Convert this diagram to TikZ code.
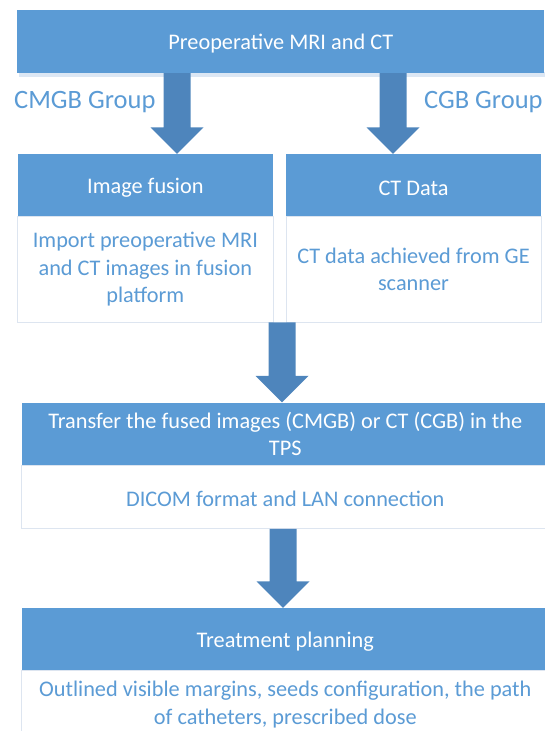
\documentclass[tikz,border=0pt]{standalone}
\usepackage{fontspec}
\setmainfont{Carlito}
\usetikzlibrary{calc}
\definecolor{hdrblue}{HTML}{5B9BD5}
\definecolor{arrblue}{HTML}{4E85BC}
\definecolor{bodyline}{HTML}{DDE5F0}
\definecolor{shadowblue}{HTML}{DCE7F4}
\tikzset{
  hdr/.style={rectangle, fill=hdrblue, draw=none, text=white, align=center,
    inner sep=0pt, font=\fontsize{22.3bp}{27.3bp}\selectfont,
    execute at begin node={\rule{0pt}{20bp}}},
  bodybox/.style={rectangle, fill=white, draw=bodyline, line width=0.8bp, text=hdrblue,
    align=center, inner sep=0pt, font=\fontsize{22.3bp}{27.3bp}\selectfont,
    execute at begin node={\rule{0pt}{20bp}}},
  grouplbl/.style={text=hdrblue, inner sep=0pt, anchor=base, font=\fontsize{26.5bp}{30bp}\selectfont},
  barrow/.style={fill=arrblue, draw=none}
}
\begin{document}
\begin{tikzpicture}[x=1bp,y=-1bp]
\useasboundingbox (0,0) rectangle (545,731);
\clip (0,0) rectangle (545,731);
% top box with faint shadow
\fill[shadowblue] (19,72) rectangle (545,77.3);
\node[hdr, minimum width=526.5bp, minimum height=63bp] (top) at (280.75,41.5) {Preoperative MRI and CT};
% group labels
\node[grouplbl] (cmgb) at (84.8,108.3) {CMGB Group};
\node[grouplbl] (cgb) at (483.4,108.3) {CGB Group};
% left column
\node[hdr, minimum width=255.3bp, minimum height=62.5bp] (fushdr) at (145.35,185.25) {Image fusion};
\node[bodybox, minimum width=255.3bp, minimum height=105.5bp] (fusbody) at (145.35,269.25)
  {Import preoperative MRI\\and CT images in fusion\\platform};
% right column
\node[hdr, minimum width=255bp, minimum height=62.5bp] (cthdr) at (413.5,185.25) {CT Data};
\node[bodybox, minimum width=255bp, minimum height=105.5bp] (ctbody) at (413.5,269.25)
  {CT data achieved from GE\\scanner};
% transfer
\node[hdr, minimum width=527.4bp, minimum height=62.5bp] (trhdr) at (285.3,433.75)
  {Transfer the fused images (CMGB) or CT (CGB) in the\\TPS};
\node[bodybox, minimum width=527.4bp, minimum height=63.5bp] (trbody) at (285.3,496.75)
  {DICOM format and LAN connection};
% treatment
\node[hdr, minimum width=527.4bp, minimum height=62bp] (tphdr) at (285.3,639) {Treatment planning};
\node[bodybox, minimum width=527.4bp, minimum height=69bp] (tpbody) at (285.3,704.5)
  {Outlined visible margins, seeds configuration, the path\\of catheters, prescribed dose};
% arrow anchor coordinates
\coordinate (a1s) at (top.south -| 177,0);
\coordinate (a1t) at (fushdr.north -| 177,0);
\coordinate (a2s) at (top.south -| 393,0);
\coordinate (a2t) at (cthdr.north -| 393,0);
\coordinate (a3s) at (fusbody.south -| 282,0);
\coordinate (a3t) at (trhdr.north -| 282,0);
\coordinate (a4s) at (trbody.south -| 283,0);
\coordinate (a4t) at (tphdr.north -| 283,0);
% block arrows
\foreach \s/\t in {a1s/a1t, a2s/a2t, a3s/a3t, a4s/a4t}{
  \fill[barrow] ($(\s)+(-13.5,0)$) -- ($(\s)+(13.5,0)$) -- ($(\t)+(13.5,-26.5)$) -- ($(\t)+(26.5,-26.5)$)
    -- (\t) -- ($(\t)+(-26.5,-26.5)$) -- ($(\t)+(-13.5,-26.5)$) -- cycle;
}
\end{tikzpicture}
\end{document}
